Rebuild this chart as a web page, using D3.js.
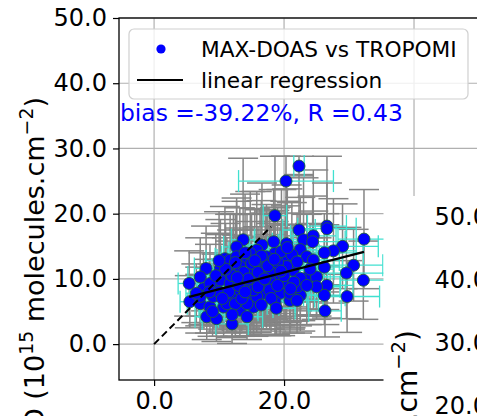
<!DOCTYPE html>
<html>
<head>
<meta charset="utf-8">
<script src="https://cdn.jsdelivr.net/npm/d3@7.9.0/dist/d3.min.js"></script>
<style>
  html, body { margin: 0; padding: 0; background: #fff; }
  svg { display: block; font-family: "DejaVu Sans", sans-serif; }
</style>
</head>
<body>
<svg id="chart" width="477" height="416"></svg>
<script>
// MAX-DOAS (x) vs TROPOMI (y), 10^15 molecules.cm^-2
const maxdoas = [22.3, 20.3, 18.6, 22.3, 26.6, 26.6, 32.3, 29.0, 27.6, 26.2,
  30.7, 29.6, 32.2, 26.2, 26.6, 26.2, 29.7, 26.3, 23.0, 24.5,
  24.4, 22.5, 23.5, 24.5, 20.4, 18.4, 18.6, 16.6, 13.7, 12.7,
  10.9, 8.0, 5.4, 5.5, 7.1, 7.6, 8.1, 9.6, 12.0, 15.3,
  20.9, 22.5, 23.7, 14.3, 17.3, 20.4, 18.4, 16.3, 14.3, 12.2,
  11.2, 9.6, 12.2, 14.8, 16.8, 19.4, 22.0, 19.4, 15.0, 13.2,
  15.8, 17.8, 20.2, 21.4, 22.5, 8.6, 10.7, 13.2, 15.8, 18.6,
  14.3, 10.2, 8.6, 7.1, 9.1, 11.7, 13.2, 15.8, 17.8, 17.1,
  15.0, 13.2, 11.7, 12.7, 14.8, 17.3, 19.6, 21.2, 22.0, 20.4,
  20.9, 25.0, 25.0, 15.3, 11.2, 12.5, 14.3, 7.1, 10.2, 17.8,
  22.0, 16.5, 18.0, 13.8, 19.0, 12.0, 16.0, 10.0,
  11.5, 13.0, 14.5, 16.0, 17.5, 19.0, 12.5, 14.0, 16.5, 18.5,
  20.0, 21.5, 18.0, 16.5, 13.5, 11.0, 9.5, 8.5, 10.5, 12.0,
  15.5, 19.5, 21.0, 17.0, 14.0, 12.8, 10.0, 23.5, 24.0, 20.5,
  9.0, 6.5, 18.8];
const tropomi = [27.3, 25.0, 19.7, 17.5, 18.1, 17.7, 16.1, 15.0, 14.3, 14.0,
  12.1, 10.9, 9.8, 11.8, 9.0, 7.5, 7.3, 5.1, 16.0, 16.6,
  15.7, 14.5, 13.4, 12.9, 15.4, 15.7, 13.9, 15.2, 16.0, 14.9,
  13.1, 11.6, 9.3, 6.5, 6.2, 8.5, 4.2, 3.9, 3.1, 5.7,
  6.7, 7.5, 10.3, 9.3, 9.3, 9.3, 11.3, 12.1, 12.9, 11.9,
  10.3, 8.3, 7.3, 7.3, 7.8, 7.8, 8.8, 10.3, 10.8, 8.3,
  14.4, 12.4, 12.9, 11.3, 10.1, 5.7, 5.7, 5.2, 7.3, 6.5,
  4.2, 9.8, 9.3, 7.3, 7.3, 9.3, 10.3, 9.8, 9.8, 11.6,
  12.4, 11.9, 12.9, 13.4, 13.9, 13.4, 14.2, 13.7, 12.6, 11.9,
  7.8, 10.3, 8.8, 8.3, 6.2, 6.2, 6.2, 10.3, 11.6, 8.3,
  6.7, 10.5, 11.0, 11.0, 9.0, 10.5, 8.8, 8.0,
  8.0, 9.0, 10.0, 11.0, 12.0, 12.5, 12.5, 14.0, 13.5, 13.0,
  10.5, 9.5, 7.0, 6.0, 7.0, 11.5, 10.5, 8.0, 7.0, 4.5,
  12.8, 11.2, 8.5, 10.0, 8.0, 10.2, 12.8, 9.0, 11.5, 14.8,
  5.0, 7.8, 5.5];
// TROPOMI uncertainty (grey bars) and MAX-DOAS uncertainty (turquoise bars)
const tropomiErr = [1.5, 3.8, 9.1, 8.5, 10.7, 7.0, 7.6, 6.5, 8.0, 6.0,
  5.5, 7.0, 6.0, 6.5, 5.0, 4.5, 5.5, 4.0, 9.5, 10.1,
  7.0, 8.0, 6.5, 7.5, 9.0, 8.0, 7.0, 9.5, 12.5, 7.5,
  8.0, 6.5, 5.0, 4.0, 4.5, 5.5, 3.5, 3.5, 3.0, 4.5,
  5.0, 5.5, 6.0, 6.5, 7.0, 6.0, 7.5, 8.5, 7.0, 8.0,
  6.0, 5.5, 5.0, 6.0, 5.5, 6.5, 6.0, 7.5, 8.0, 6.5,
  9.0, 8.0, 9.0, 7.0, 6.5, 4.0, 4.5, 4.0, 5.5, 5.0,
  3.5, 7.0, 6.0, 4.5, 5.0, 6.5, 7.5, 6.0, 7.0, 8.5,
  7.5, 9.0, 7.0, 8.5, 9.5, 8.0, 9.5, 8.0, 7.5, 6.5,
  5.5, 6.0, 5.0, 6.0, 4.5, 5.0, 4.5, 6.0, 7.5, 6.0,
  5.0, 7.0, 7.5, 6.5, 6.0, 7.0, 5.5, 5.0,
  5.5, 6.0, 6.5, 7.0, 8.0, 8.5, 7.5, 9.0, 8.5, 7.5,
  7.0, 6.0, 5.0, 4.5, 5.0, 7.0, 6.5, 5.0, 5.0, 3.5,
  8.0, 7.0, 6.0, 6.5, 5.5, 6.5, 7.5, 6.0, 7.0, 9.0,
  3.8, 4.5, 4.2];
const maxdoasErr = [0.8, 7.3, 1.8, 2.5, 3.0, 4.5, 4.0, 5.5, 3.5, 6.0,
  4.5, 6.5, 3.5, 2.8, 4.0, 3.2, 5.0, 2.5, 2.0, 3.5,
  5.0, 2.5, 3.0, 4.0, 2.2, 3.0, 2.0, 2.5, 1.8, 2.0,
  1.5, 1.8, 1.7, 1.5, 2.0, 1.6, 1.8, 2.2, 2.5, 3.0,
  2.8, 3.5, 3.0, 2.5, 2.8, 3.5, 2.5, 2.2, 3.0, 2.0,
  2.4, 1.9, 2.6, 2.2, 3.2, 2.7, 4.0, 3.0, 2.6, 2.0,
  2.4, 3.2, 2.6, 3.8, 2.9, 1.7, 2.1, 2.8, 2.3, 3.1,
  2.4, 1.8, 2.0, 1.6, 2.2, 2.5, 2.1, 3.0, 2.4, 2.9,
  2.2, 2.7, 2.0, 2.3, 2.8, 3.3, 2.5, 4.2, 3.0, 3.4,
  2.6, 4.5, 3.6, 2.9, 2.0, 2.6, 3.1, 1.9, 2.3, 2.7,
  3.3, 2.5, 2.8, 2.3, 3.0, 2.1, 2.6, 1.9,
  2.0, 2.3, 2.6, 2.8, 3.0, 3.2, 2.2, 2.5, 2.7, 3.1,
  3.3, 3.5, 2.9, 2.7, 2.4, 2.1, 1.9, 1.8, 2.0, 2.3,
  2.6, 3.0, 3.2, 2.8, 2.5, 2.2, 2.0, 3.6, 3.7, 3.0,
  1.8, 1.6, 2.9];

const regSlope = 0.256;
const regIntercept = 5.87;
const oneToOne = [0, 18];
const xTicks = [0, 20, 40];
const yTicks = [0, 10, 20, 30, 40, 50];
const rightTicks = [20, 30, 40, 50];
const legendLabels = ['MAX-DOAS vs TROPOMI', 'linear regression'];
const statsText = 'bias =-39.22%, R =0.43';

const svg = d3.select('#chart');
const fmt = d3.format('.1f');

const x = d3.scaleLinear().domain([-5.4, 50]).range([119, 479]);
const y = d3.scaleLinear().domain([-5.5, 50]).range([380, 18]);

svg.append('rect').attr('width', 477).attr('height', 416).attr('fill', '#fff');

svg.append('clipPath').attr('id', 'ax')
  .append('rect')
  .attr('x', x.range()[0]).attr('y', y.range()[1])
  .attr('width', x.range()[1] - x.range()[0])
  .attr('height', y.range()[0] - y.range()[1]);

// grid
const grid = svg.append('g').attr('stroke', '#b0b0b0').attr('stroke-width', 1.2);
xTicks.forEach(t => grid.append('line')
  .attr('x1', x(t)).attr('x2', x(t)).attr('y1', y.range()[1]).attr('y2', y.range()[0]));
yTicks.forEach(t => grid.append('line')
  .attr('x1', x.range()[0]).attr('x2', x.range()[1]).attr('y1', y(t)).attr('y2', y(t)));

const data = maxdoas.map((d, i) => ({
  x: d, y: tropomi[i], ye: tropomiErr[i], xe: maxdoasErr[i]
}));

const plot = svg.append('g').attr('clip-path', 'url(#ax)');

// grey TROPOMI error bars, wide caps
const gCap = 15;
const grey = plot.append('g').attr('stroke', '#858585').attr('stroke-width', 1.5);
data.forEach(d => {
  grey.append('line')
    .attr('x1', x(d.x)).attr('x2', x(d.x))
    .attr('y1', y(d.y - d.ye)).attr('y2', y(d.y + d.ye));
  [d.y - d.ye, d.y + d.ye].forEach(v => grey.append('line')
    .attr('x1', x(d.x) - gCap).attr('x2', x(d.x) + gCap)
    .attr('y1', y(v)).attr('y2', y(v)));
});

// turquoise MAX-DOAS error bars
const cCap = 11;
const cyan = plot.append('g').attr('stroke', '#40e0d0').attr('stroke-width', 1.3);
data.forEach(d => {
  cyan.append('line')
    .attr('x1', x(d.x - d.xe)).attr('x2', x(d.x + d.xe))
    .attr('y1', y(d.y)).attr('y2', y(d.y));
  [d.x - d.xe, d.x + d.xe].forEach(v => cyan.append('line')
    .attr('x1', x(v)).attr('x2', x(v))
    .attr('y1', y(d.y) - cCap).attr('y2', y(d.y) + cCap));
});

plot.append('g').selectAll('circle').data(data).join('circle')
  .attr('cx', d => x(d.x)).attr('cy', d => y(d.y)).attr('r', 6)
  .attr('fill', '#0000ff').attr('stroke', '#1f5e3c').attr('stroke-width', 0.9);

plot.append('line')
  .attr('x1', x(oneToOne[0])).attr('y1', y(oneToOne[0]))
  .attr('x2', x(oneToOne[1])).attr('y2', y(oneToOne[1]))
  .attr('stroke', '#000').attr('stroke-width', 2).attr('stroke-dasharray', '7,4');

const [xmin, xmax] = d3.extent(maxdoas);
plot.append('line')
  .attr('x1', x(xmin)).attr('y1', y(regSlope * xmin + regIntercept))
  .attr('x2', x(xmax)).attr('y2', y(regSlope * xmax + regIntercept))
  .attr('stroke', '#000').attr('stroke-width', 2.2);

// axes
const styleAxis = g => {
  g.selectAll('text').attr('font-size', 24).attr('font-family', 'DejaVu Sans').attr('fill', '#000');
  g.selectAll('line').attr('stroke', '#000').attr('stroke-width', 1.2);
  g.select('.domain').remove();
};
svg.append('g').attr('transform', `translate(0,${y.range()[0]})`)
  .call(d3.axisBottom(x).tickValues(xTicks).tickFormat(fmt).tickSize(6).tickPadding(6))
  .call(styleAxis);
svg.append('g').attr('transform', `translate(${x.range()[0]},0)`)
  .call(d3.axisLeft(y).tickValues(yTicks).tickFormat(fmt).tickSize(6).tickPadding(6))
  .call(styleAxis);

svg.append('rect')
  .attr('x', x.range()[0]).attr('y', y.range()[1])
  .attr('width', x.range()[1] - x.range()[0])
  .attr('height', y.range()[0] - y.range()[1])
  .attr('fill', 'none').attr('stroke', '#000').attr('stroke-width', 1.3);

// legend
const leg = svg.append('g');
leg.append('rect').attr('x', 129).attr('y', 29).attr('width', 339).attr('height', 70)
  .attr('rx', 5).attr('fill', 'rgba(255,255,255,0.8)').attr('stroke', '#d0d0d0').attr('stroke-width', 1.2);
leg.append('circle').attr('cx', 161).attr('cy', 49).attr('r', 4.6).attr('fill', '#0000ff');
leg.append('line').attr('x1', 137).attr('x2', 183).attr('y1', 80).attr('y2', 80)
  .attr('stroke', '#000').attr('stroke-width', 2);
leg.selectAll('text.lab').data(legendLabels).join('text')
  .attr('x', 201).attr('y', (d, i) => 57 + i * 31)
  .attr('font-size', 21.7).attr('fill', '#000').text(d => d);

svg.append('text').attr('x', 120).attr('y', 121)
  .attr('font-size', 23.4).attr('fill', '#0000ff').text(statsText);

// y label
const yLabel = (g, px, py, fs) => {
  const sup = fs * 0.7, shift = fs * 0.42;
  const t = g.append('text')
    .attr('transform', `translate(${px},${py}) rotate(-90)`)
    .attr('text-anchor', 'end').attr('font-size', fs).attr('fill', '#000');
  t.append('tspan').text('NO\u2082 VCD (10');
  t.append('tspan').attr('dy', -shift).attr('font-size', sup).text('15');
  t.append('tspan').attr('dy', shift).text(' molecules.cm');
  t.append('tspan').attr('dy', -shift).attr('font-size', sup).text('\u22122');
  t.append('tspan').attr('dy', shift).text(')');
};
yLabel(svg, 44, 97, 27);

// neighbouring panel covering the lower right corner
svg.append('rect').attr('x', 383.5).attr('y', 196).attr('width', 100).attr('height', 230).attr('fill', '#fff');
const y2 = d3.scaleLinear().domain([20, 50]).range([406, 217]);
svg.append('g').attr('transform', 'translate(494,0)')
  .call(d3.axisLeft(y2).tickValues(rightTicks).tickFormat(fmt).tickSize(0).tickPadding(6))
  .call(styleAxis);
yLabel(svg, 417, 330, 28);
</script>
</body>
</html>
